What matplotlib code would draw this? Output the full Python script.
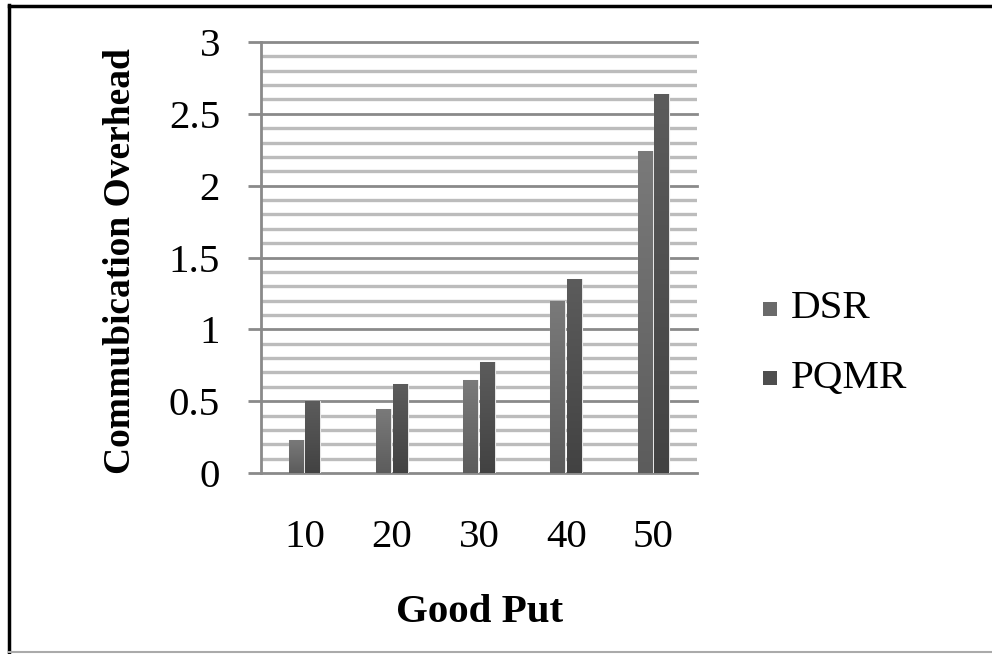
import matplotlib
matplotlib.use("Agg")
import matplotlib.pyplot as plt
import numpy as np
from matplotlib.lines import Line2D

categories = ["10", "20", "30", "40", "50"]
dsr = [0.23, 0.445, 0.647, 1.20, 2.243]
pqmr = [0.50, 0.617, 0.775, 1.35, 2.637]
series_names = ["DSR", "PQMR"]
yticks = [0, 0.5, 1, 1.5, 2, 2.5, 3]
ytick_labels = ["0", "0.5", "1", "1.5", "2", "2.5", "3"]

plt.rcParams['font.family'] = ['Liberation Serif', 'DejaVu Serif']

W, H = 992, 654
fig = plt.figure(figsize=(W / 100, H / 100), dpi=100)
ax = fig.add_axes([261 / W, 1 - 473 / H, 436 / W, 431 / H])

x = np.arange(len(categories))
bw = 0.172
off = 0.095

# gridlines
for v in np.arange(0.1, 3.0, 0.1):
    if abs(v * 2 - round(v * 2)) > 1e-6:
        ax.axhline(v, color="#bcbcbc", lw=2.4, zorder=1)
for v in yticks:
    ax.axhline(v, color="#8a8a8a", lw=2.0, zorder=1.5, clip_on=False)

def grad_bars(xs, vals, top, bottom, label):
    bars = ax.bar(xs, vals, width=bw, color=top, edgecolor="#e6e6e6",
                  linewidth=0.8, zorder=3, label=label)
    g = np.linspace(0, 1, 256).reshape(-1, 1)
    c0 = np.array(matplotlib.colors.to_rgb(top))
    c1 = np.array(matplotlib.colors.to_rgb(bottom))
    img = c1[None, None, :] * (1 - g[..., None]) + c0[None, None, :] * g[..., None]
    for b in bars:
        bx, by = b.get_x(), b.get_y()
        w, h = b.get_width(), b.get_height()
        im = ax.imshow(img, extent=[bx, bx + w, by, by + h], origin="lower",
                       aspect="auto", zorder=3.5, interpolation="bilinear")
        im.set_clip_path(b)
    return bars

grad_bars(x - off, dsr, "#7a7a7a", "#5c5c5c", series_names[0])
grad_bars(x + off, pqmr, "#5c5c5c", "#424242", series_names[1])
ax.set_xlim(-0.5, len(categories) - 0.5)
ax.set_ylim(0, 3)

for s in ["top", "right", "bottom"]:
    ax.spines[s].set_visible(False)
ax.spines["left"].set_color("#8a8a8a")
ax.spines["left"].set_linewidth(2.0)
ax.spines["left"].set_zorder(4)

ax.set_yticks(yticks)
ax.set_yticklabels(ytick_labels, fontsize=29.5)
ax.tick_params(axis="y", length=9.5, width=2.0, color="#8a8a8a", pad=20)
ax.set_xticks(x)
ax.set_xticklabels(categories, fontsize=29.5)
ax.tick_params(axis="x", length=0, pad=33)

fig.text(121 / W, 1 - 261 / H, "Commubication Overhead", rotation=90,
         fontsize=27, fontweight="bold", ha="center", va="center")
fig.text(480 / W, 1 - 613 / H, "Good Put", fontsize=29.5, fontweight="bold",
         ha="center", va="center")

# legend
leg_cols = ["#6a6a6a", "#4e4e4e"]
leg_y = [309, 378]
for name, c, yy in zip(series_names, leg_cols, leg_y):
    fig.patches.append(matplotlib.patches.Rectangle(
        (763 / W, 1 - (yy + 7) / H), 14 / W, 14 / H, transform=fig.transFigure,
        facecolor=c, edgecolor="none"))
    fig.text(791 / W, 1 - yy / H, name, fontsize=29.5, ha="left", va="center")

# border
fig.add_artist(Line2D([9 / W, 9 / W], [1 - 5 / H, 1 - 653 / H], color="black",
                      lw=2.5, transform=fig.transFigure))
fig.add_artist(Line2D([9 / W, 1], [1 - 5.5 / H, 1 - 5.5 / H], color="black",
                      lw=2.5, transform=fig.transFigure))
fig.add_artist(Line2D([9 / W, 1], [1 - 652 / H, 1 - 652 / H], color="#aaaaaa",
                      lw=1.5, transform=fig.transFigure))

fig.savefig("out.png", dpi=100)
